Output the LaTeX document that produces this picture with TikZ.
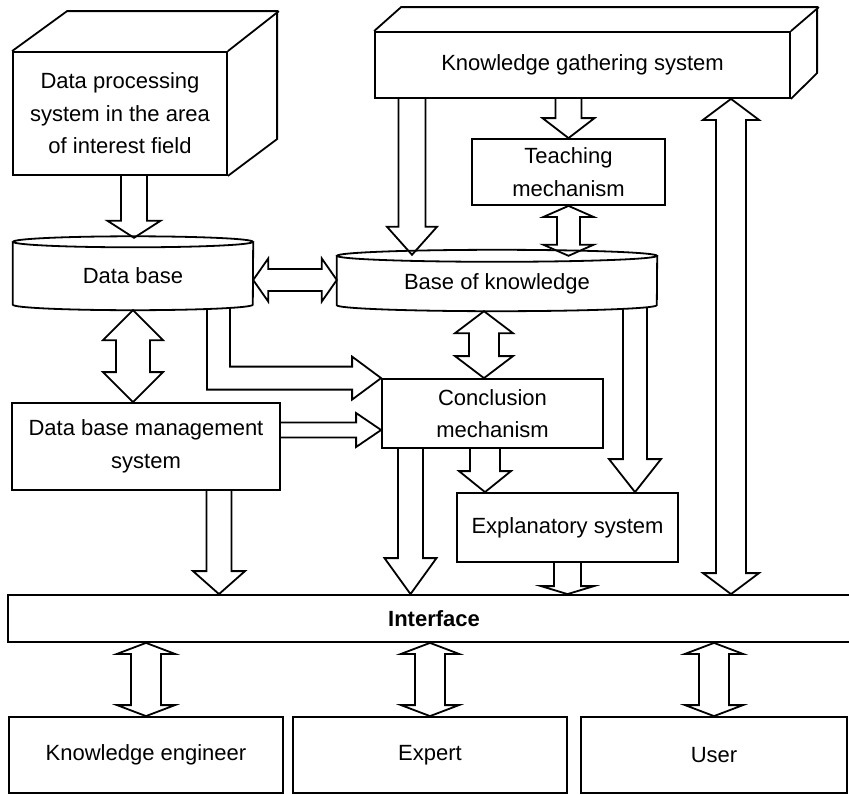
\documentclass[tikz,border=0pt]{standalone}
\usepackage{fontspec}
\setmainfont{Liberation Sans}
\usepackage{tikz}
\usetikzlibrary{calc,backgrounds}
\tikzstyle{lbl} = [align=center, text centered, inner sep=0pt, font=\fontsize{22}{32.5}\selectfont]
\tikzstyle{blk} = [lbl, draw, line width=1.8pt]
\tikzstyle{fat} = [draw, line width=1.8pt, fill=white]
\tikzset{
  fdown/.style n args={3}{to path={let \p1=(\tikztostart), \p2=(\tikztotarget) in
    (\x1-#1pt,\y1) -- (\x1-#1pt,\y2+#3pt) -- (\x1-#2pt,\y2+#3pt) -- (\x1,\y2)
    -- (\x1+#2pt,\y2+#3pt) -- (\x1+#1pt,\y2+#3pt) -- (\x1+#1pt,\y1)}},
  fud/.style n args={3}{to path={let \p1=(\tikztostart), \p2=(\tikztotarget) in
    (\x1-#1pt,\y1-#3pt) -- (\x1-#2pt,\y1-#3pt) -- (\x1,\y1) -- (\x1+#2pt,\y1-#3pt)
    -- (\x1+#1pt,\y1-#3pt) -- (\x1+#1pt,\y2+#3pt) -- (\x1+#2pt,\y2+#3pt) -- (\x1,\y2)
    -- (\x1-#2pt,\y2+#3pt) -- (\x1-#1pt,\y2+#3pt) -- cycle}},
  fright/.style n args={3}{to path={let \p1=(\tikztostart), \p2=(\tikztotarget) in
    (\x1,\y1+#1pt) -- (\x2-#3pt,\y1+#1pt) -- (\x2-#3pt,\y1+#2pt) -- (\x2,\y1)
    -- (\x2-#3pt,\y1-#2pt) -- (\x2-#3pt,\y1-#1pt) -- (\x1,\y1-#1pt)}},
  flr/.style n args={3}{to path={let \p1=(\tikztostart), \p2=(\tikztotarget) in
    (\x1,\y1) -- (\x1+#3pt,\y1+#2pt) -- (\x1+#3pt,\y1+#1pt) -- (\x2-#3pt,\y1+#1pt)
    -- (\x2-#3pt,\y1+#2pt) -- (\x2,\y1) -- (\x2-#3pt,\y1-#2pt) -- (\x2-#3pt,\y1-#1pt)
    -- (\x1+#3pt,\y1-#1pt) -- (\x1+#3pt,\y1-#2pt) -- cycle}},
  fdownright/.style n args={3}{to path={let \p1=(\tikztostart), \p2=(\tikztotarget) in
    (\x1-#1pt,\y1) -- (\x1-#1pt,\y2-#1pt) -- (\x2-#3pt,\y2-#1pt) -- (\x2-#3pt,\y2-#2pt)
    -- (\x2,\y2) -- (\x2-#3pt,\y2+#2pt) -- (\x2-#3pt,\y2+#1pt) -- (\x1+#1pt,\y2+#1pt)
    -- (\x1+#1pt,\y1)}}
}

\begin{document}
\begin{tikzpicture}[x=1pt, y=-1pt]
  \useasboundingbox (0,0) rectangle (849,795);

  \node [blk, minimum width=214, minimum height=123] (dps) at (120,113.5)
        {Data processing\\system in the area\\of interest field};
  \node [blk, minimum width=415, minimum height=66] (kgs) at (582.5,65) {Knowledge gathering system};
  \node [blk, minimum width=193, minimum height=66] (teach) at (568.5,172) {Teaching\\mechanism};
  \node [lbl, minimum width=240, minimum height=68] (db) at (133,276) {Data base};
  \node [lbl, minimum width=320, minimum height=55] (kb) at (497,283.5) {Base of knowledge};
  \node [blk, minimum width=268, minimum height=87] (dbms) at (146,446.5)
        {Data base management\\system};
  \node [blk, minimum width=221, minimum height=69] (concl) at (492.5,413.5) {Conclusion\\mechanism};
  \node [blk, minimum width=221, minimum height=69] (expl) at (567.5,527.5) {Explanatory system};
  \node [blk, minimum width=852, minimum height=47, font=\fontsize{22}{26}\selectfont\bfseries]
        (iface) at (434,618.5) {Interface};
  \node [blk, minimum width=274, minimum height=76] (ke) at (146,755) {Knowledge engineer};
  \node [blk, minimum width=274, minimum height=76] (exp) at (430,755) {Expert};
  \node [blk, minimum width=266, minimum height=76] (user) at (714,755) {User};

  % 3d tops
  \draw [line width=1.8pt] (dps.north west) -- ++(55,-40) -- ++(210,0) -- ++(0,128) -- (dps.south east);
  \draw [line width=1.8pt] (dps.north east) -- ++(51,-40);
  \draw [line width=1.8pt] (kgs.north west) -- ++(27,-24) -- ++(416,0) -- ++(0,66) -- (kgs.south east);
  \draw [line width=1.8pt] (kgs.north east) -- ++(28,-24);

  % cylinders
  \draw [line width=1.8pt] (db.north) ellipse (120pt and 5.5pt);
  \draw [line width=1.8pt] (db.north west) -- ([yshift=5.5pt]db.south west)
        arc [start angle=180, end angle=360, x radius=120pt, y radius=5.5pt] -- (db.north east);
  \draw [line width=1.8pt] (kb.north) ellipse (160pt and 6pt);
  \draw [line width=1.8pt] (kb.north west) -- ([yshift=6pt]kb.south west)
        arc [start angle=180, end angle=360, x radius=160pt, y radius=6pt] -- (kb.north east);

  \begin{scope}[on background layer]
    \draw [fat] ([xshift=14pt]dps.south) to[fdown={13}{26.5}{17}] ([yshift=4pt]db.north);
    \draw [fat] ([xshift=-170.5pt]kgs.south) to[fdown={13.5}{25}{28}] ([yshift=1pt]kb.north);
    \draw [fat] (teach.north |- kgs.south) to[fdown={13}{26}{20}] (teach.north);
    \draw [fat] (teach.south) to[fud={11.5}{25}{11}] (kb.north);
    \draw [fat] ([xshift=148.5pt]kgs.south) to[fud={15}{28}{21}] (iface.north);
    \draw [fat] ([yshift=-4pt]db.east) to[flr={11}{21.5}{15}] (kb.west);
    \draw [fat] (db.south) to[fud={17}{30}{30}] (dbms.north);
    \draw [fat] ([xshift=85.5pt,yshift=2pt]db.south) to[fdownright={11.5}{21.5}{29}] (concl.north west);
    \draw [fat] ([yshift=16.5pt]dbms.east) to[fright={7.5}{17}{25}] (concl.west);
    \draw [fat] ([xshift=-13pt]kb.south) to[fud={15}{29}{22}] (concl.north);
    \draw [fat] ([xshift=-82pt]concl.south) to[fdown={12.5}{26}{36}] (iface.north);
    \draw [fat] ([xshift=-7.5pt]concl.south) to[fdown={15}{26}{21}] (expl.north);
    \draw [fat] ([xshift=138pt,yshift=3pt]kb.south) to[fdown={12}{26}{33}] (expl.north);
    \draw [fat] (expl.south) to[fdown={13.5}{26.5}{8}] (iface.north);
    \draw [fat] ([xshift=73pt]dbms.south) to[fdown={12.5}{26}{23}] (iface.north);
    \draw [fat] (ke.north |- iface.south) to[fud={15}{29}{11}] (ke.north);
    \draw [fat] (exp.north |- iface.south) to[fud={15}{29}{11}] (exp.north);
    \draw [fat] (user.north |- iface.south) to[fud={15}{29}{11}] (user.north);
  \end{scope}
\end{tikzpicture}
\end{document}
